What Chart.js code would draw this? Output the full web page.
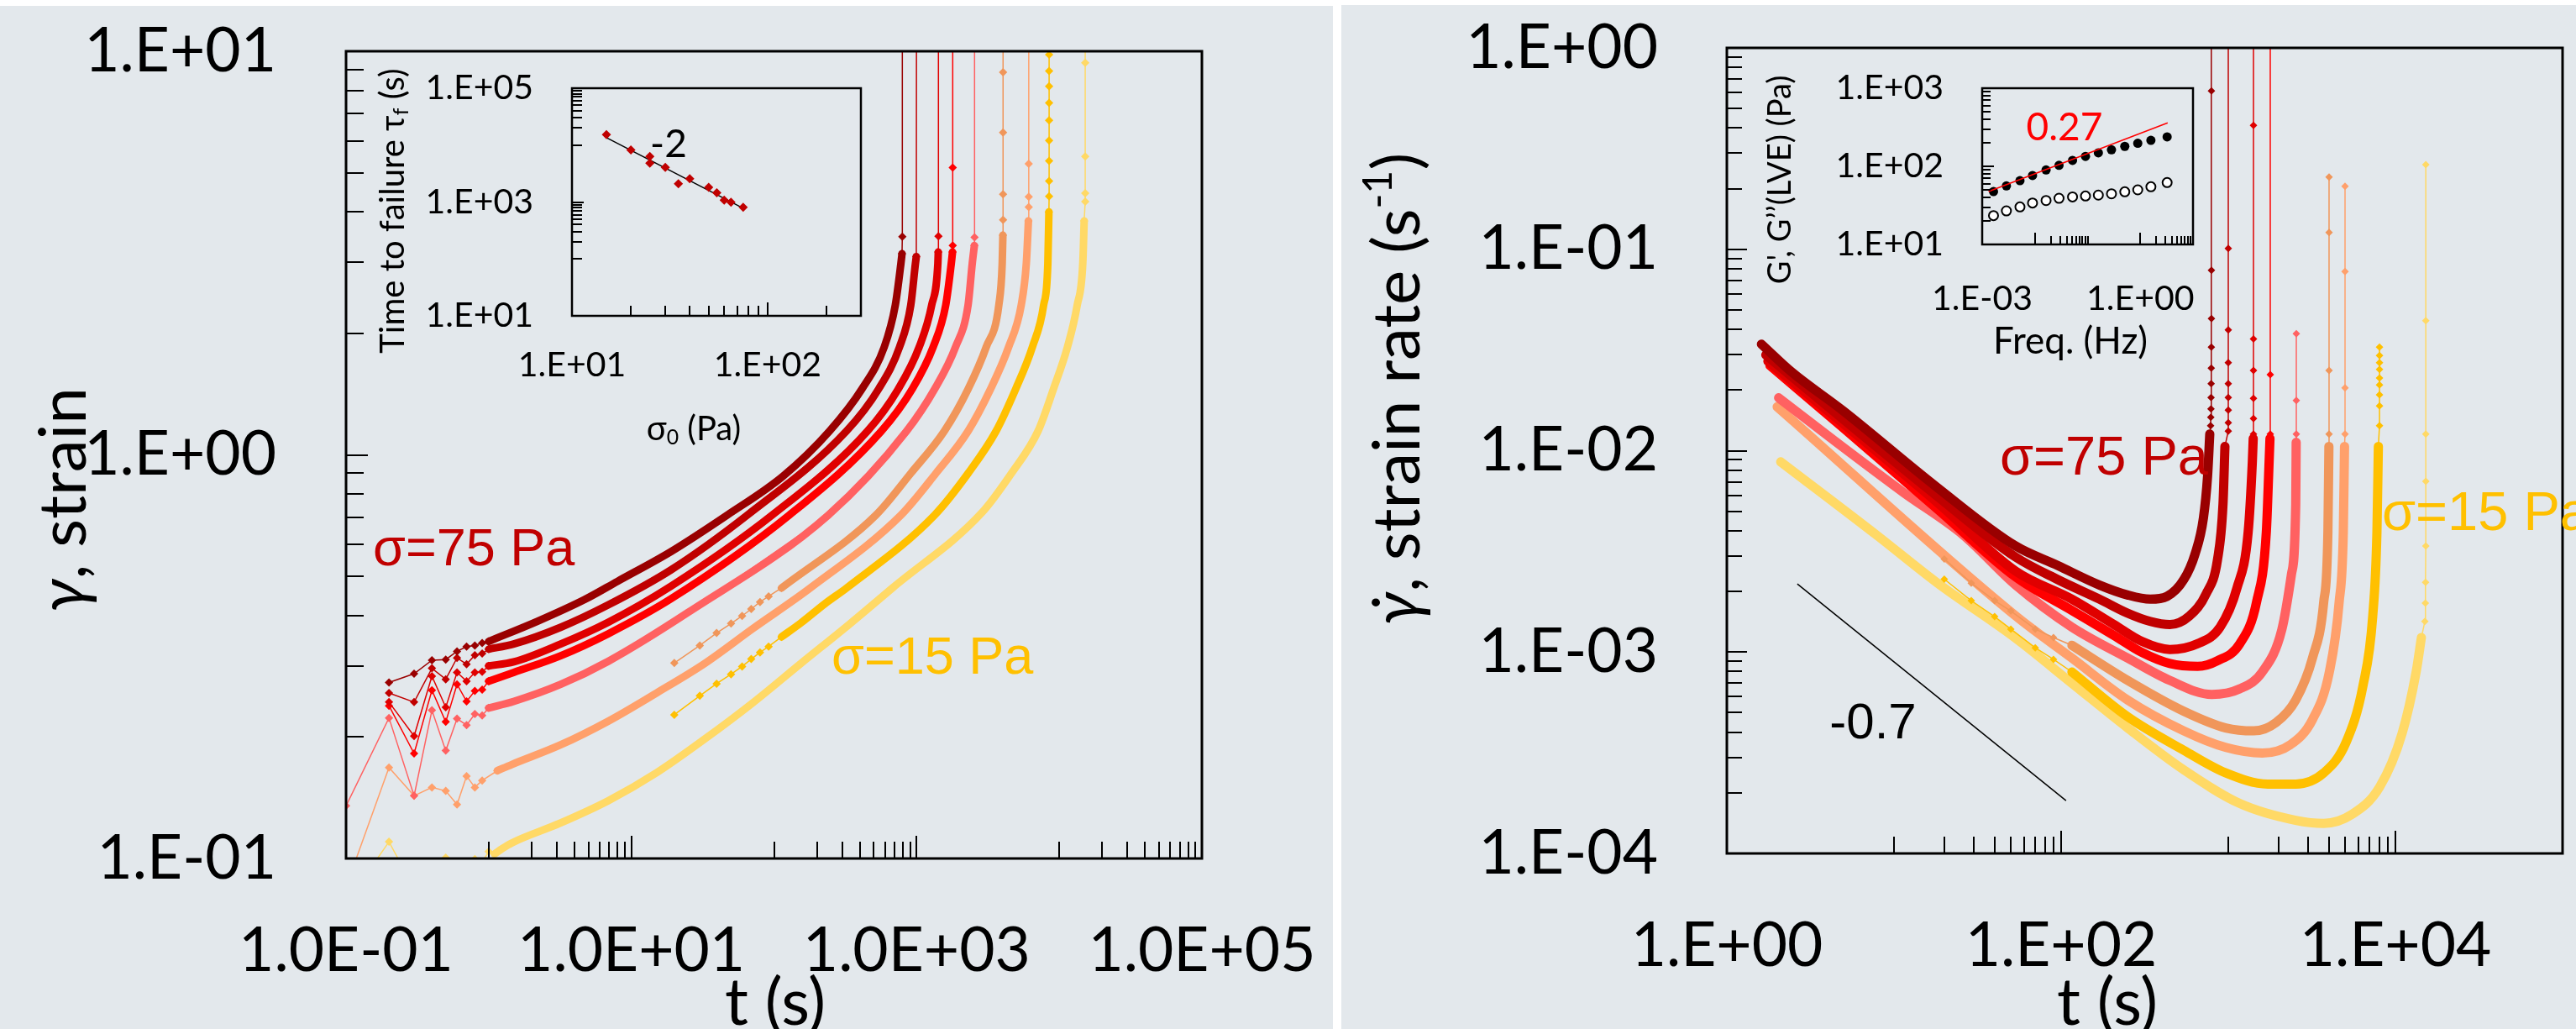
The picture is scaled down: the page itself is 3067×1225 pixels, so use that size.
<!DOCTYPE html>
<html>
<head>
<meta charset="utf-8">
<title>Creep: strain and strain rate</title>
<script src="https://cdn.jsdelivr.net/npm/chart.js@4.4.1/dist/chart.umd.min.js"></script>
<style>
  html, body { margin: 0; width: 3067px; height: 1225px; overflow: hidden; background: #fff; }
  .panel { position: absolute; background: #e3e8ec; }
  canvas { position: absolute; }
</style>
</head>
<body>
<div class="panel" style="left:0; top:7px; width:1587px; height:1218px"></div>
<div class="panel" style="left:1597px; top:6px; width:1470px; height:1219px"></div>
<canvas id="strain" width="1587" height="1225" style="left:0; top:0"></canvas>
<canvas id="failure" width="620" height="480" style="left:440px; top:70px"></canvas>
<canvas id="rate" width="1470" height="1225" style="left:1597px; top:0"></canvas>
<canvas id="moduli" width="570" height="370" style="left:2090px; top:70px"></canvas>
<script>
// one curve per applied stress (Pa), from highest to lowest
const stresses = [75, 65, 55, 50, 40, 30, 25, 20, 15];
const colors = ['#990000', '#c00000', '#e00000', '#ff0000', '#ff6161', '#f0965a', '#ffa06b', '#ffc000', '#ffd966'];

// strain vs time, [t (s), strain]
const strain75 = [[0.2,0.273],[0.3,0.287],[0.4,0.310],[0.5,0.311],[0.6,0.326],[0.7,0.335],[0.8,0.337],[0.9,0.342],
  [1.0,0.345],[2.2,0.387],[4.7,0.438],[8,0.486],[19,0.576],[47,0.709],[116,0.886],[245,1.145],[413,1.455],[593,1.85],[709,2.35],[776,2.98],[790,3.15],
  [794,3.47],[794,30]];
const strain65 = [[0.2,0.257],[0.3,0.244],[0.4,0.296],[0.5,0.278],[0.6,0.314],[0.7,0.303],[0.8,0.319],[0.9,0.322],
  [1.0,0.330],[1.5,0.34],[3.2,0.374],[6.9,0.425],[19,0.519],[65,0.709],[322,1.145],[541,1.455],[759,1.85],[910,2.35],[981,2.98],[995,3.1],
  [1000,30]];
const strain55 = [[0.2,0.244],[0.3,0.201],[0.4,0.283],[0.5,0.237],[0.6,0.289],[0.7,0.275],[0.8,0.289],[0.9,0.29],
  [1.0,0.30],[1.5,0.307],[3.2,0.34],[6.9,0.385],[19,0.473],[97,0.709],[452,1.145],[743,1.455],[1042,1.85],[1276,2.35],[1409,2.98],[1418,3.18],
  [1422,3.48],[1422,30]];
const strain50 = [[0.2,0.239],[0.3,0.182],[0.4,0.261],[0.5,0.218],[0.6,0.27],[0.7,0.245],[0.8,0.26],[0.9,0.262],
  [1.0,0.275],[1.5,0.289],[3.2,0.318],[6.9,0.3605],[19,0.44],[128,0.709],[566,1.145],[931,1.455],[1306,1.85],[1600,2.35],[1750,2.98],[1785,3.18],
  [1791,3.30],[1791,5.15],[1791,30]];
const strain40 = [[0.1,0.135],[0.2,0.223],[0.3,0.143],[0.4,0.233],[0.5,0.185],[0.6,0.222],[0.7,0.214],[0.8,0.228],[0.9,0.226],
  [1.0,0.236],[1.5,0.245],[3.2,0.27],[6.9,0.308],[25,0.407],[240,0.709],[850,1.145],[1337,1.455],[1874,1.85],[2295,2.35],[2455,2.98],[2540,3.30],
  [2548,3.46],[2548,30]];
const strain30 = [[20,0.305],[30.2,0.337],[39.6,0.362],[50,0.382],[59.8,0.399],[69.3,0.415],[79.8,0.432],[91.7,0.446],
  [113,0.468],[518,0.709],[910,0.9],[1564,1.145],[2295,1.455],[3076,1.85],[3770,2.35],[3981,2.98],[4025,3.5],
  [4036,3.82],[4036,4.42],[4036,6.29],[4036,8.87],[4036,30]];
const strain25 = [[0.1,0.085],[0.2,0.168],[0.3,0.143],[0.4,0.15],[0.5,0.147],[0.6,0.136],[0.7,0.16],[0.8,0.15],[0.9,0.156],
  [1.15,0.165],[1.455,0.171],[3.17,0.191],[6.9,0.219],[15,0.257],[32.6,0.304],[71,0.371],[180,0.468],[776,0.709],[1365,0.9],[2295,1.145],[3296,1.455],[4415,1.85],[5413,2.35],[5875,2.98],[6080,3.8],
  [6110,4.11],[6110,4.36],[6110,5.26],[6110,30]];
const strain20 = [[20,0.227],[30.2,0.253],[39.6,0.271],[50,0.286],[59.8,0.299],[69.3,0.312],[79.8,0.324],[91.7,0.335],
  [113,0.354],[154,0.383],[228,0.428],[323,0.468],[1335,0.709],[2295,0.9],[3606,1.145],[4946,1.455],[6480,1.85],[7770,2.35],[8316,2.98],[8460,4.0],
  [8490,4.37],[8490,4.77],[8490,5.35],[8490,6.01],[8490,6.74],[8490,7.45],[8490,8.19],[8490,8.93],[8490,9.81],[8490,30]];
const strain15 = [[0.15,0.095],[0.2,0.11],[0.25,0.095],[0.3,0.09],[0.4,0.093],[0.5,0.1005],[0.6,0.095],[0.7,0.092],[0.8,0.0997],[0.9,0.098],[1.0,0.104],
  [1.1,0.1026],[1.25,0.1059],[1.455,0.1093],[3.17,0.1223],[6.9,0.139],[15,0.163],[32.6,0.1975],[71,0.243],[154,0.304],[336,0.380],[677,0.468],[2877,0.72],[4620,0.9],[7100,1.145],[9100,1.455],[11410,1.85],[13360,2.35],[14620,2.98],[14950,3.8],
  [15200,4.24],[15200,4.45],[15200,5.49],[15200,9.36],[15200,30]];
const strainCurves = [strain75, strain65, strain55, strain50, strain40, strain30, strain25, strain20, strain15];
// index range of the densely sampled part of each strain curve
const strainDense = [[8,20],[8,19],[8,19],[8,19],[9,20],[8,16],[9,24],[8,19],[11,29]];

// strain rate vs time, [t (s), rate (1/s)]
const rate75 = [[1.61,0.0338],[2.44,0.0246],[4.95,0.0158],[18.2,0.00655],[53.5,0.00336],[95.5,0.00269],[170,0.00215],[250,0.00192],[341,0.00183],[430,0.00189],[542,0.00229],[632,0.00306],[710,0.00463],[752,0.00749],[775,0.0121],
  [784,0.0133],[786,0.01466],[788,0.01613],[789,0.01834],[790,0.02153],[791,0.02569],[792,0.03266],[793,0.04529],[793,0.0787],[793,0.611],[793,2]];
const rate65 = [[1.71,0.0299],[4.95,0.01435],[18.2,0.00593],[53.5,0.00296],[95.5,0.00229],[170,0.00183],[250,0.00156],[341,0.00142],[447,0.00137],[585,0.00151],[738,0.00195],[861,0.00286],[930,0.00543],[955,0.0105],
  [1000,0.0125],[1000,0.01375],[1000,0.01588],[1000,0.01836],[1000,0.02153],[1000,0.02735],[1000,0.0398],[1000,0.101],[1000,2]];
const rate55 = [[1.76,0.0278],[4.95,0.01366],[18.2,0.00552],[53.5,0.00252],[116,0.00183],[207,0.00137],[304,0.00113],[447,0.00103],[656,0.0011],[894,0.00133],[1127,0.00208],[1315,0.00394],[1393,0.00879],[1410,0.0115],
  [1415,0.0121],[1415,0.01443],[1415,0.01817],[1415,0.025],[1415,0.0359],[1415,0.412],[1415,2]];
const rate50 = [[1.81,0.0265],[4.95,0.013],[18.2,0.00513],[53.5,0.00236],[116,0.00161],[207,0.00121],[304,0.000996],[447,0.000877],[656,0.000849],[861,0.000905],[1172,0.0011],[1476,0.00177],[1689,0.00394],[1755,0.00879],[1776,0.0115],
  [1783,0.0121],[1783,0.02385],[1783,2]];
const rate40 = [[2.04,0.0183],[4.4,0.0112],[11.3,0.00623],[25.9,0.00382],[53.5,0.00215],[116,0.00133],[250,0.000934],[447,0.000723],[796,0.000616],[1172,0.000657],[1597,0.000796],[2090,0.00129],[2389,0.00244],[2533,0.00543],[2548,0.011],
  [2553,0.0121],[2553,0.01776],[2553,0.0381]];
const rate30 = [[20,0.0029],[29,0.0022],[40,0.0018],[50,0.0016],[70,0.0013],[90,0.00118],
  [116,0.00108],[250,0.000723],[542,0.000508],[966,0.00042],[1420,0.000406],[1932,0.000447],[2533,0.000578],[3190,0.000934],[3724,0.00177],[3945,0.00394],[4000,0.0105],
  [4008,0.0121],[4008,0.025],[4008,0.1213],[4008,0.2286]];
const rate25 = [[2.0,0.0165],[53.5,0.00151],[116,0.000933],[250,0.000578],[542,0.000406],[966,0.000336],[1597,0.000315],[2344,0.000346],[3190,0.000462],[4024,0.000796],[4606,0.00177],[4878,0.00394],[4960,0.0105],
  [4995,0.0121],[4995,0.0205],[4995,0.0775],[4995,0.2056]];
const rate20 = [[20,0.0023],[29,0.0018],[40,0.0015],[50,0.0013],[70,0.00105],[90,0.00092],
  [116,0.000796],[250,0.000477],[542,0.000325],[966,0.000251],[1722,0.000221],[2533,0.000221],[3724,0.000251],[5073,0.000357],[6391,0.000678],[7317,0.00151],[7752,0.00394],[7907,0.0105],
  [8030,0.0133],[8030,0.01667],[8030,0.01893],[8030,0.0212],[8030,0.02296],[8030,0.0253],[8030,0.02737],[8030,0.02965],[8030,0.03266]];
const rate15 = [[2.1,0.0088],[7.9,0.0038],[18.2,0.0022],[53.5,0.00117],[116,0.0007],[250,0.00042],[542,0.00026],[1172,0.000177],[2533,0.000146],[3724,0.000141],[5478,0.000156],[8054,0.000214],[10960,0.000394],[13300,0.000796],[14300,0.00118],
  [15000,0.00142],[15100,0.00175],[15150,0.00222],[15200,0.00336],[15200,0.00705],[15200,0.0121],[15200,0.0442],[15200,0.263]];
const rateCurves = [rate75, rate65, rate55, rate50, rate40, rate30, rate25, rate20, rate15];
const rateDense = [[0,14],[0,13],[0,13],[0,14],[0,14],[6,16],[0,12],[6,17],[0,14]];
const slopeLine = [[2.64,0.00218],[107,0.000183]];

// inset: time to failure vs applied stress
const sigma0 = [15, 20, 25, 25, 30, 35, 40, 50, 55, 60, 65, 75];
const tFail = [15240, 8200, 6300, 4800, 4060, 2100, 2560, 1820, 1450, 1080, 990, 807];
const failFit = [[15,13500],[75,780]];

// inset: linear viscoelastic moduli
const freq = [0.00164, 0.00288, 0.00521, 0.00902, 0.0163, 0.0287, 0.0518, 0.0912, 0.160, 0.284, 0.508, 0.895, 1.59, 3.23];
const gPrime = [47.5, 56.1, 65.6, 76.2, 89.9, 103, 119, 134, 149, 163, 180, 197, 215, 238];
const gDouble = [23.4, 26.9, 30.2, 33.9, 36.5, 39.0, 40.6, 41.7, 42.8, 44.5, 47.2, 50.0, 54.7, 62.0];
const gFit = [[0.00132,47.5],[3.31,360]];

// tick labels
const strainXTicks = [0.1, 10, 1000, 100000], strainXLabels = ['1.0E-01', '1.0E+01', '1.0E+03', '1.0E+05'];
const strainYTicks = [0.1, 1, 10], strainYLabels = ['1.E-01', '1.E+00', '1.E+01'];
const rateXTicks = [1, 100, 10000], rateXLabels = ['1.E+00', '1.E+02', '1.E+04'];
const rateYTicks = [0.0001, 0.001, 0.01, 0.1, 1], rateYLabels = ['1.E-04', '1.E-03', '1.E-02', '1.E-01', '1.E+00'];
const failXTicks = [10, 100], failXLabels = ['1.E+01', '1.E+02'];
const failYTicks = [10, 1000, 100000], failYLabels = ['1.E+01', '1.E+03', '1.E+05'];
const freqXTicks = [0.001, 1], freqXLabels = ['1.E-03', '1.E+00'];
const modYTicks = [10, 100, 1000], modYLabels = ['1.E+01', '1.E+02', '1.E+03'];

Chart.defaults.font.family = 'Lato';
Chart.defaults.color = '#000';

// inward tick marks, every integer multiple inside the listed decades
function decadeTicks(decades, minor, major, majorAt) {
  const out = [];
  decades.forEach(k => {
    for (let m = 1; m <= 10; m++) out.push([m * Math.pow(10, k), m === majorAt ? major : minor]);
  });
  return out;
}

const framePlugin = {
  id: 'frame',
  afterDraw(chart, args, opts) {
    const { ctx, chartArea: a, scales } = chart;
    ctx.save();
    ctx.strokeStyle = '#000';
    ctx.lineWidth = opts.tickWidth;
    ctx.beginPath();
    (opts.xTicks || []).forEach(([v, len]) => {
      const px = Math.round(scales.x.getPixelForValue(v));
      ctx.moveTo(px, a.bottom); ctx.lineTo(px, a.bottom - len);
    });
    (opts.yTicks || []).forEach(([v, len]) => {
      const py = Math.round(scales.y.getPixelForValue(v));
      ctx.moveTo(a.left, py); ctx.lineTo(a.left + len, py);
    });
    ctx.stroke();
    ctx.lineWidth = opts.width;
    ctx.strokeRect(a.left, a.top, a.right - a.left, a.bottom - a.top);
    ctx.restore();
  }
};

function drawRich(ctx, it) {
  const fam = it.family || 'Lato';
  const parts = it.parts.map(p => typeof p === 'string' ? { t: p } : Object.assign({}, p));
  const fontOf = p => (p.italic ? 'italic ' : '') + ((p.sub || p.sup) ? it.size * 0.62 : it.size) + 'px "' + fam + '"';
  ctx.save();
  ctx.translate(it.x, it.y);
  if (it.rot) ctx.rotate(it.rot * Math.PI / 180);
  ctx.textBaseline = 'middle';
  ctx.fillStyle = it.color || '#000';
  let total = 0;
  parts.forEach(p => { ctx.font = fontOf(p); p.w = ctx.measureText(p.t).width; total += p.w; });
  let x = it.align === 'left' ? 0 : -total / 2;
  parts.forEach(p => {
    ctx.font = fontOf(p);
    const dy = p.sub ? it.size * 0.25 : p.sup ? -it.size * 0.3 : 0;
    ctx.fillText(p.t, x, dy);
    x += p.w;
  });
  ctx.restore();
}

// text layer in page coordinates; (left, top) is where the canvas sits on the page
function textLayer(items, left, top) {
  return {
    id: 'texts',
    afterDraw(chart) {
      const ctx = chart.ctx;
      ctx.save();
      ctx.translate(-left, -top);
      items.forEach(it => drawRich(ctx, it));
      ctx.restore();
    }
  };
}

// fixed axis size; drop the label overhang padding so the plot box sits where the layout puts it
function fixWidth(w) {
  return s => { s.width = w; s.paddingTop = 0; s.paddingBottom = 0; };
}
function fixHeight(h) {
  return s => { s.height = h; s.paddingLeft = 0; s.paddingRight = 0; };
}

function logAxis(min, max, values, labels, size, pad, fit) {
  return {
    type: 'logarithmic', min, max,
    grid: { display: false, drawTicks: false },
    border: { display: false },
    afterBuildTicks: s => { s.ticks = values.map(v => ({ value: v })); },
    afterFit: fit,
    ticks: {
      autoSkip: false, maxRotation: 0, padding: pad, color: '#000',
      font: { family: 'Lato', size },
      callback: (v, i) => labels[i]
    }
  };
}

// a curve = thick smooth band over its densely sampled part + thin line with diamonds elsewhere
function curve(data, color, dense, width, radius) {
  const band = {
    data: data.slice(dense[0], dense[1] + 1), showLine: true,
    borderColor: color, borderWidth: width, cubicInterpolationMode: 'monotone',
    borderJoinStyle: 'round', borderCapStyle: 'round', pointRadius: 0
  };
  const thin = {
    data, showLine: true, borderColor: color, backgroundColor: color, borderWidth: 1.5,
    pointStyle: 'rectRot', pointBorderWidth: 0,
    pointRadius: c => (c.dataIndex > dense[0] && c.dataIndex < dense[1]) ? 0 : radius
  };
  return [band, thin];
}

function baseOptions(padding, scales, frame) {
  return {
    responsive: false, animation: false, events: [],
    layout: { padding },
    scales,
    plugins: { legend: { display: false }, tooltip: { enabled: false }, frame }
  };
}

// main strain chart
new Chart(document.getElementById('strain'), {
  type: 'scatter',
  data: { datasets: strainCurves.flatMap((d, i) => curve(d, colors[i], strainDense[i], 9, 5)) },
  options: baseOptions(
    { left: 0, top: 61, right: 156, bottom: 0 },
    {
      x: logAxis(0.1, 100000, strainXTicks, strainXLabels, 73, 67, fixHeight(203)),
      y: logAxis(0.1, 10, strainYTicks, strainYLabels, 73, 83, fixWidth(412))
    },
    {
      width: 3, tickWidth: 2,
      xTicks: decadeTicks([0, 2, 4], 20, 27, 10),
      yTicks: decadeTicks([-1, 0], 21, 26, 1)
    }
  ),
  plugins: [framePlugin, textLayer([
    { x: 77, y: 595, rot: -90, size: 78, parts: [{ t: 'γ', italic: true }, ', strain'] },
    { x: 923, y: 1195, size: 78, parts: ['t (s)'] },
    { x: 444, y: 656, size: 63, family: 'Liberation Sans', color: '#c00000', align: 'left', parts: ['σ=75 Pa'] },
    { x: 990, y: 785, size: 63, family: 'Liberation Sans', color: '#ffc000', align: 'left', parts: ['σ=15 Pa'] }
  ], 0, 0)]
});

// inset: time to failure
new Chart(document.getElementById('failure'), {
  type: 'scatter',
  data: {
    datasets: [
      { data: sigma0.map((s, i) => [s, tFail[i]]), pointStyle: 'rectRot', pointRadius: 5.5,
        backgroundColor: '#c00000', borderColor: '#c00000', pointBorderWidth: 0 },
      { data: failFit, showLine: true, borderColor: '#000', borderWidth: 1.5, pointRadius: 0 }
    ]
  },
  options: baseOptions(
    { left: 0, top: 35, right: 35, bottom: 0 },
    {
      x: logAxis(10, 300, failXTicks, failXLabels, 41, 34, fixHeight(174)),
      y: logAxis(10, 100000, failYTicks, failYLabels, 41, 46, fixWidth(241))
    },
    {
      width: 2.5, tickWidth: 2,
      xTicks: decadeTicks([1], 12, 16, 10).concat([[200, 12]]),
      yTicks: decadeTicks([2, 4], 12, 14, 10)
    }
  ),
  plugins: [framePlugin, textLayer([
    { x: 468, y: 251, rot: -90, size: 40, parts: ['Time to failure τ', { t: 'f', sub: true }, ' (s)'] },
    { x: 826, y: 511, size: 40, parts: ['σ', { t: '0', sub: true }, ' (Pa)'] },
    { x: 796, y: 172, size: 46, parts: ['-2'] }
  ], 440, 70)]
});

// main strain-rate chart
new Chart(document.getElementById('rate'), {
  type: 'scatter',
  data: {
    datasets: rateCurves.flatMap((d, i) => curve(d, colors[i], rateDense[i], 11, 4.5)).concat([
      { data: slopeLine, showLine: true, borderColor: '#000', borderWidth: 1.5, pointRadius: 0 }
    ])
  },
  options: baseOptions(
    { left: 0, top: 57, right: 16, bottom: 0 },
    {
      x: logAxis(1, 100000, rateXTicks, rateXLabels, 73, 67, fixHeight(209)),
      y: logAxis(0.0001, 1, rateYTicks, rateYLabels, 73, 82, fixWidth(459))
    },
    {
      width: 3, tickWidth: 2,
      xTicks: decadeTicks([1, 3], 20, 27, 10),
      yTicks: decadeTicks([-4, -3, -2, -1], 18, 24, 1)
    }
  ),
  plugins: [framePlugin, textLayer([
    { x: 1665, y: 463, rot: -90, size: 78, parts: [{ t: 'γ̇', italic: true }, ', strain rate (s', { t: '-1', sup: true }, ')'] },
    { x: 2509, y: 1195, size: 78, parts: ['t (s)'] },
    { x: 2381, y: 547, size: 65, family: 'Liberation Sans', color: '#c00000', align: 'left', parts: ['σ=75 Pa'] },
    { x: 2836, y: 613, size: 65, family: 'Liberation Sans', color: '#ffc000', align: 'left', parts: ['σ=15 Pa'] },
    { x: 2230, y: 862, size: 60, family: 'Liberation Sans', parts: ['-0.7'] }
  ], 1597, 0)]
});

// inset: storage and loss moduli
new Chart(document.getElementById('moduli'), {
  type: 'scatter',
  data: {
    datasets: [
      { data: gFit, showLine: true, borderColor: '#ff0000', borderWidth: 1.5, pointRadius: 0 },
      { data: freq.map((f, i) => [f, gPrime[i]]), pointStyle: 'circle', pointRadius: 5.5,
        backgroundColor: '#000', borderColor: '#000', pointBorderWidth: 0 },
      { data: freq.map((f, i) => [f, gDouble[i]]), pointStyle: 'circle', pointRadius: 5.5,
        backgroundColor: '#fff', borderColor: '#000', pointBorderWidth: 2 }
    ]
  },
  options: baseOptions(
    { left: 0, top: 35, right: 49, bottom: 0 },
    {
      x: logAxis(0.001, 10, freqXTicks, freqXLabels, 41, 40, fixHeight(149)),
      y: logAxis(10, 1000, modYTicks, modYLabels, 41, 46, fixWidth(270))
    },
    {
      width: 2.5, tickWidth: 2,
      xTicks: decadeTicks([-2, 0], 10, 14, 1),
      yTicks: decadeTicks([1, 2], 10, 14, 1)
    }
  ),
  plugins: [framePlugin, textLayer([
    { x: 2120, y: 214, rot: -90, size: 38, parts: ["G', G’’(LVE) (Pa)"] },
    { x: 2465, y: 407, size: 44, parts: ['Freq. (Hz)'] },
    { x: 2458, y: 152, size: 46, color: '#ff0000', parts: ['0.27'] }
  ], 2090, 70)]
});
</script>
</body>
</html>
